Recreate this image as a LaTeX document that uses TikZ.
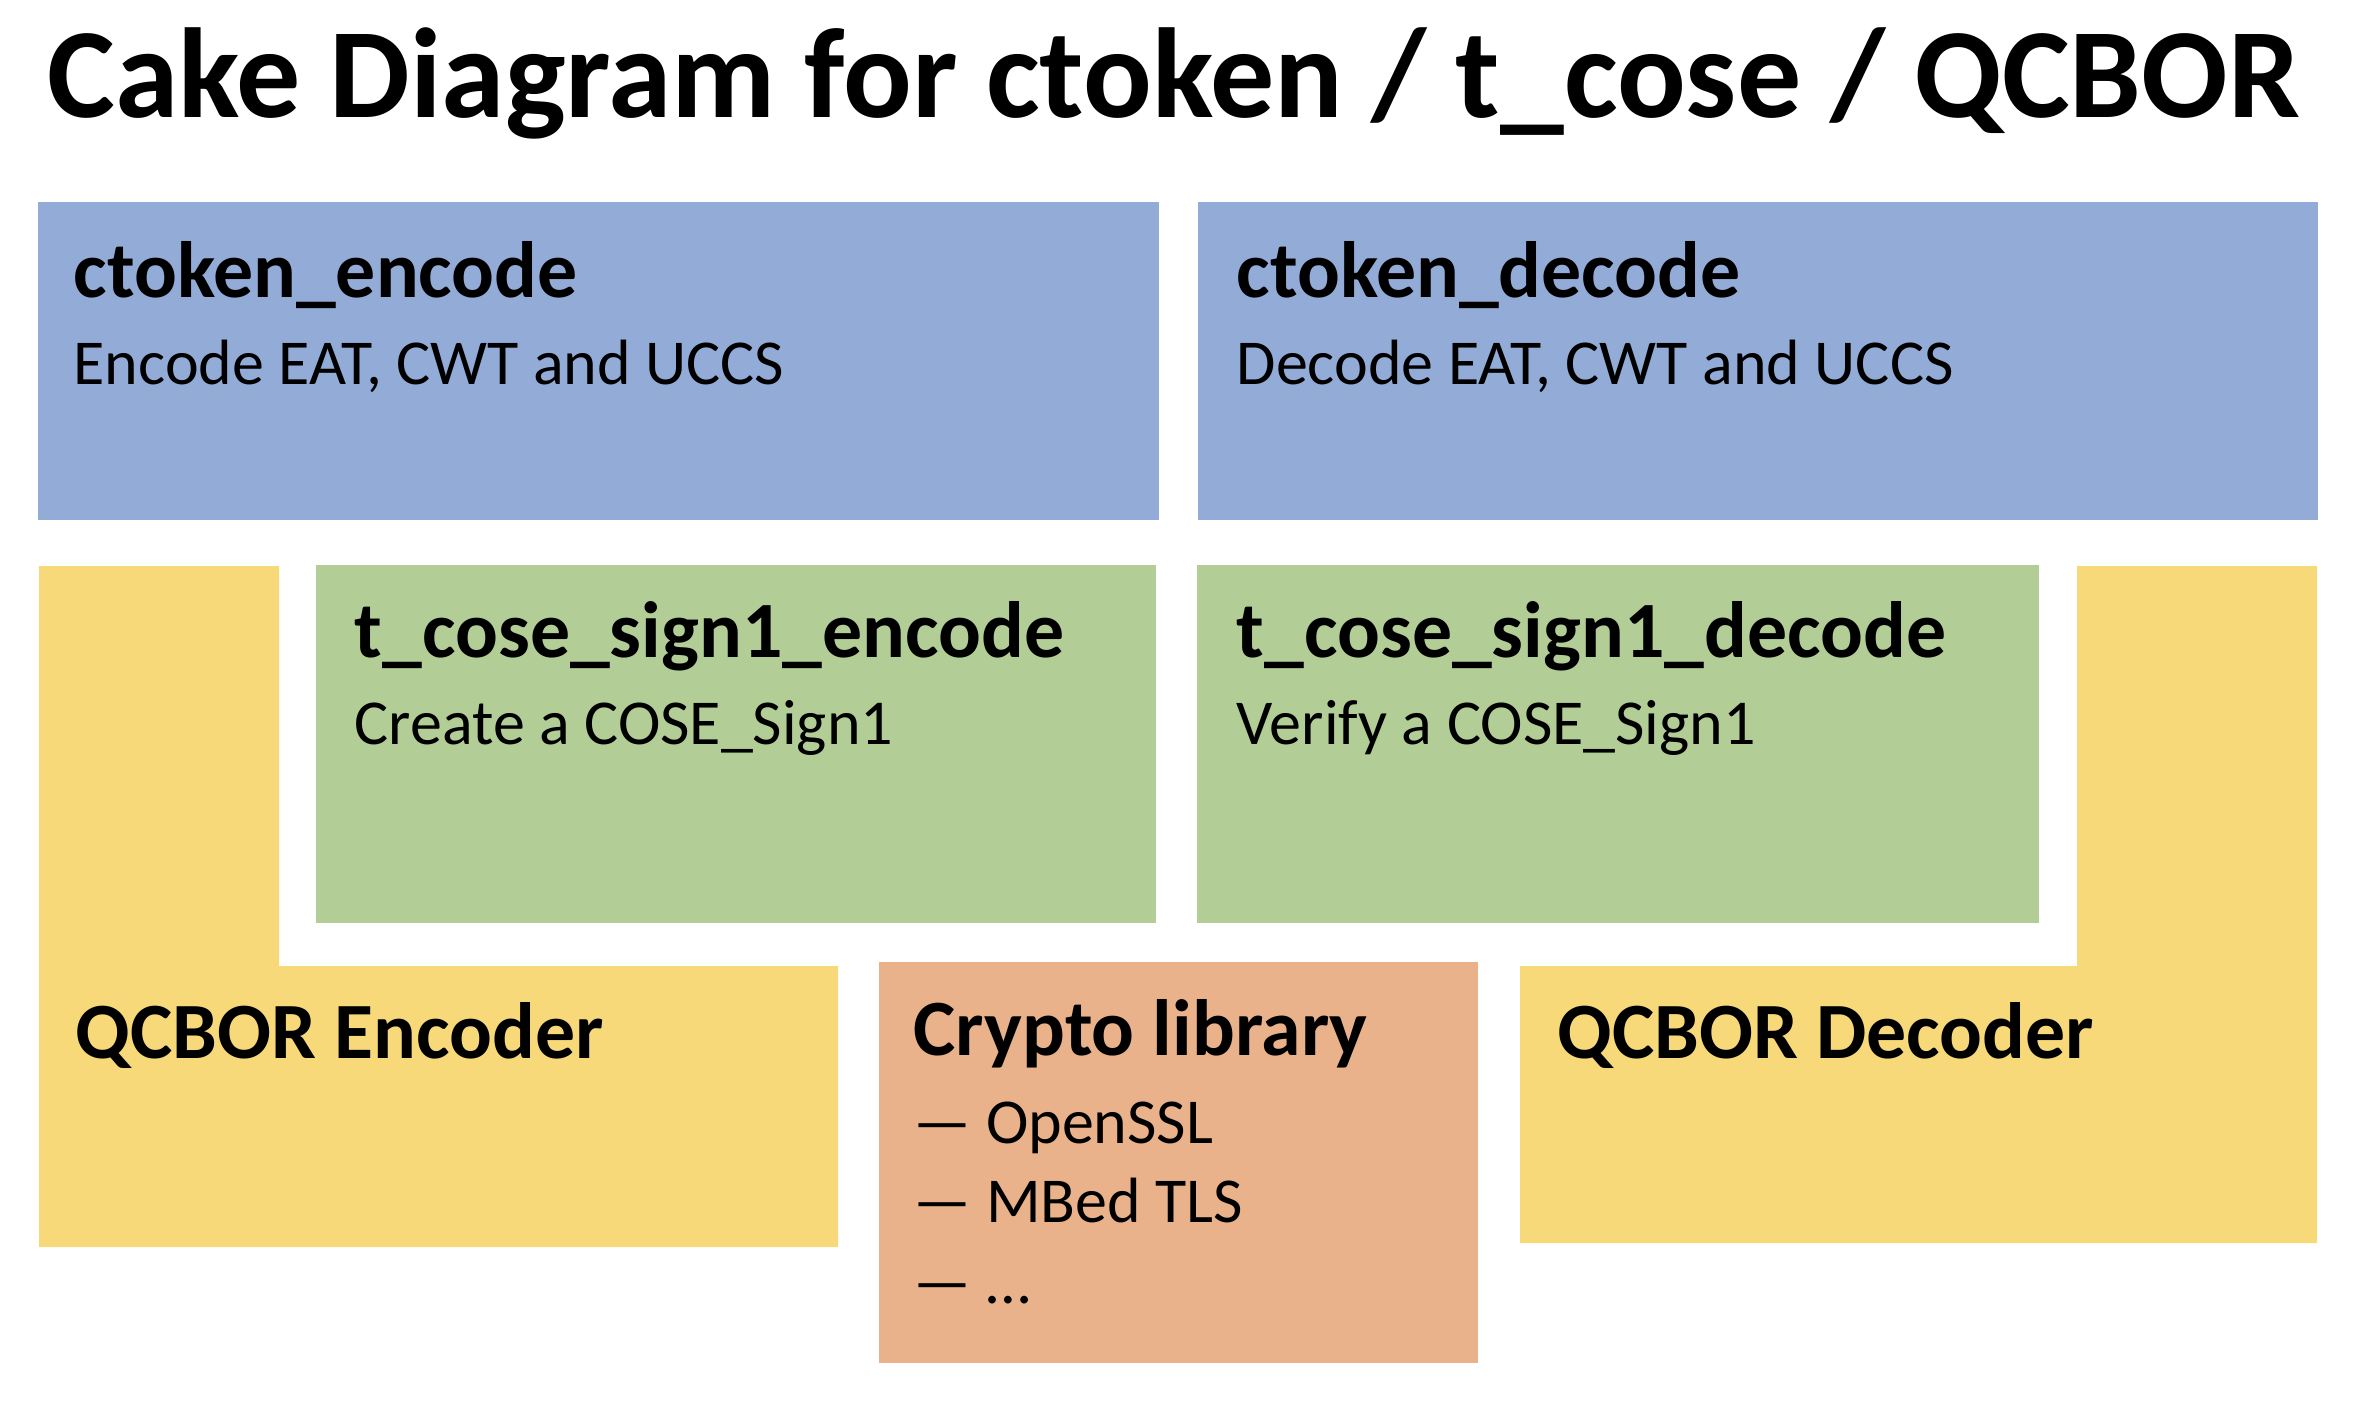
\documentclass[tikz,border=0pt]{standalone}
\usepackage{fontspec}
\setmainfont{Carlito}
\definecolor{tokenblue}{RGB}{147,171,215}
\definecolor{cosegreen}{RGB}{178,206,150}
\definecolor{cboryellow}{RGB}{247,217,121}
\definecolor{cryptoorange}{RGB}{233,178,139}
\tikzset{
  headtxt/.style={anchor=base west, inner sep=0pt, font=\bfseries\fontsize{22.7}{27}\selectfont},
  subtxt/.style={anchor=base west, inner sep=0pt, align=left, font=\fontsize{18.2}{22}\selectfont},
}
\begin{document}
\begin{tikzpicture}[x=0.01cm,y=-0.01cm]
\useasboundingbox (0,0) rectangle (2370,1400);
\node[anchor=base, inner sep=0pt, font=\bfseries\fontsize{36.4}{44}\selectfont] (title) at (1174,118) {Cake Diagram for ctoken / t\_cose / QCBOR};

% top layer
\fill[tokenblue] (38,202) rectangle (1159,520);
\fill[tokenblue] (1198,202) rectangle (2318,520);
\node[headtxt] (enc) at (73,297) {ctoken\_encode};
\node[subtxt] (encsub) at (73,384) {Encode EAT, CWT and UCCS};
\node[headtxt] (dec) at (1236,297) {ctoken\_decode};
\node[subtxt] (decsub) at (1236,384) {Decode EAT, CWT and UCCS};

% middle layer
\fill[cosegreen] (316,565) rectangle (1156,923);
\fill[cosegreen] (1197,565) rectangle (2039,923);
\node[headtxt] (cenc) at (354,657) {t\_cose\_sign1\_encode};
\node[subtxt] (cencsub) at (354,744) {Create a COSE\_Sign1};
\node[headtxt] (cdec) at (1236,657) {t\_cose\_sign1\_decode};
\node[subtxt] (cdecsub) at (1236,744) {Verify a COSE\_Sign1};

% bottom layer
\fill[cboryellow] (39,566) -- (279,566) -- (279,966) -- (838,966) -- (838,1247) -- (39,1247) -- cycle;
\fill[cboryellow] (2077,566) -- (2317,566) -- (2317,1243) -- (1520,1243) -- (1520,966) -- (2077,966) -- cycle;
\fill[cryptoorange] (879,962) rectangle (1478,1363);
\node[headtxt] (qenc) at (75,1058) {QCBOR Encoder};
\node[headtxt] (qdec) at (1557,1058) {QCBOR Decoder};
\node[headtxt] (crypto) at (913,1055) {Crypto library};
\node[subtxt] (ossl) at (913,1143) {— OpenSSL};
\node[subtxt] (mbed) at (913,1222) {— MBed TLS};
\node[subtxt] (more) at (913,1303) {— …};
\end{tikzpicture}
\end{document}
